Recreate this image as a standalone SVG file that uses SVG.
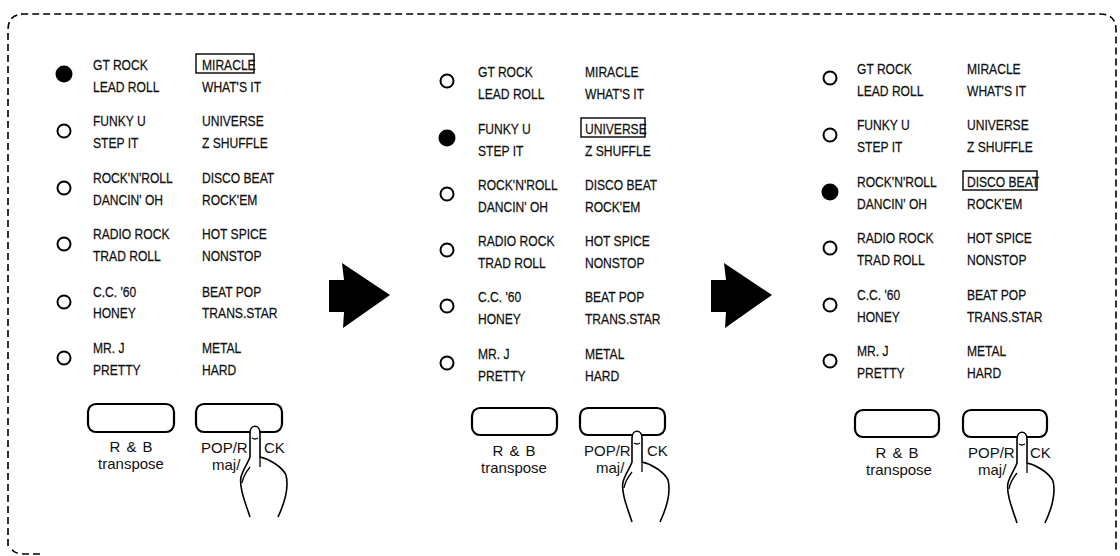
<svg xmlns="http://www.w3.org/2000/svg" width="1120" height="556" viewBox="0 0 1120 556">
<style>
.t{font-family:"Liberation Sans",Arial,sans-serif;font-size:15.5px;fill:#111;stroke:#111;stroke-width:0.25;transform-box:fill-box;transform-origin:0 0;transform:scaleX(0.78)}
.b{font-family:"Liberation Sans",Arial,sans-serif;font-size:15px;fill:#111}
.led{fill:#fff;stroke:#000;stroke-width:2}
.on{fill:#000}
.sel{fill:none;stroke:#000;stroke-width:1.4}
.btn{fill:#fff;stroke:#000;stroke-width:2.2}
.hand{fill:#fff;stroke:#000;stroke-width:1.6;stroke-linejoin:round}
.hl{fill:none;stroke:#000;stroke-width:1.3}
.border{fill:none;stroke:#000;stroke-width:1.6;stroke-dasharray:7 4}
</style>
<rect width="1120" height="556" fill="#fff"/>
<path class="border" d="M40,554 L22,554 Q13,553 11,548 M8,546 L8,30 Q8,14 24,14 L1100,14 Q1116,14 1116,30 L1116,552"/>

<g id="panel1">
<circle class="on" cx="64" cy="74" r="8.5"/>
<circle class="led" cx="64" cy="131" r="6.5"/>
<circle class="led" cx="64" cy="188" r="6.5"/>
<circle class="led" cx="64" cy="244" r="6.5"/>
<circle class="led" cx="64" cy="302" r="6.5"/>
<circle class="led" cx="64" cy="358" r="6.5"/>
<text class="t" x="93" y="70">GT ROCK</text><text class="t" x="93" y="92">LEAD ROLL</text>
<text class="t" x="93" y="126">FUNKY U</text><text class="t" x="93" y="148">STEP IT</text>
<text class="t" x="93" y="183">ROCK'N'ROLL</text><text class="t" x="93" y="205">DANCIN' OH</text>
<text class="t" x="93" y="239">RADIO ROCK</text><text class="t" x="93" y="261">TRAD ROLL</text>
<text class="t" x="93" y="297">C.C. '60</text><text class="t" x="93" y="318">HONEY</text>
<text class="t" x="93" y="353">MR. J</text><text class="t" x="93" y="375">PRETTY</text>
<text class="t" x="202" y="70">MIRACLE</text><text class="t" x="202" y="92">WHAT'S IT</text>
<text class="t" x="202" y="126">UNIVERSE</text><text class="t" x="202" y="148">Z SHUFFLE</text>
<text class="t" x="202" y="183">DISCO BEAT</text><text class="t" x="202" y="205">ROCK'EM</text>
<text class="t" x="202" y="239">HOT SPICE</text><text class="t" x="202" y="261">NONSTOP</text>
<text class="t" x="202" y="297">BEAT  POP</text><text class="t" x="202" y="318">TRANS.STAR</text>
<text class="t" x="202" y="353">METAL</text><text class="t" x="202" y="375">HARD</text>
<rect class="sel" x="196" y="54" width="58" height="19"/>
<rect class="btn" x="88" y="404" width="86" height="28" rx="8"/>
<rect class="btn" x="196" y="404" width="86" height="28" rx="8"/>
<text class="b" x="131" y="452" text-anchor="middle" word-spacing="2">R &amp; B</text>
<text class="b" x="131" y="469" text-anchor="middle">transpose</text>
<text class="b" x="201" y="453">POP/R</text><text class="b" x="264" y="453">CK</text>
<text class="b" x="212" y="470">maj/</text>
<g transform="translate(255,427)">
<path class="hand" d="M-5,90 C-10,75 -16,60 -14,50 C-12,42 -7,36 -5,30 L-5,6 C-5,-3 5,-3 5,6 L5,30 C15,32 27,40 31,48 C34,60 30,75 23,90"/>
<path class="hl" d="M-5,40 C-9,45 -12,50 -13,56 M-3,11 Q0,13 3,11 M5,30 L5,40"/>
</g>
</g>

<g id="panel2">
<circle class="led" cx="447" cy="81" r="6.5"/>
<circle class="on" cx="447" cy="138" r="8.5"/>
<circle class="led" cx="447" cy="194" r="6.5"/>
<circle class="led" cx="447" cy="250" r="6.5"/>
<circle class="led" cx="447" cy="306" r="6.5"/>
<circle class="led" cx="447" cy="363" r="6.5"/>
<text class="t" x="478" y="77">GT ROCK</text><text class="t" x="478" y="99">LEAD ROLL</text>
<text class="t" x="478" y="134">FUNKY U</text><text class="t" x="478" y="156">STEP IT</text>
<text class="t" x="478" y="190">ROCK'N'ROLL</text><text class="t" x="478" y="212">DANCIN' OH</text>
<text class="t" x="478" y="246">RADIO ROCK</text><text class="t" x="478" y="268">TRAD ROLL</text>
<text class="t" x="478" y="302">C.C. '60</text><text class="t" x="478" y="324">HONEY</text>
<text class="t" x="478" y="359">MR. J</text><text class="t" x="478" y="381">PRETTY</text>
<text class="t" x="585" y="77">MIRACLE</text><text class="t" x="585" y="99">WHAT'S IT</text>
<text class="t" x="585" y="134">UNIVERSE</text><text class="t" x="585" y="156">Z SHUFFLE</text>
<text class="t" x="585" y="190">DISCO BEAT</text><text class="t" x="585" y="212">ROCK'EM</text>
<text class="t" x="585" y="246">HOT SPICE</text><text class="t" x="585" y="268">NONSTOP</text>
<text class="t" x="585" y="302">BEAT  POP</text><text class="t" x="585" y="324">TRANS.STAR</text>
<text class="t" x="585" y="359">METAL</text><text class="t" x="585" y="381">HARD</text>
<rect class="sel" x="581" y="118" width="64" height="19"/>
<rect class="btn" x="472" y="408" width="85" height="27" rx="8"/>
<rect class="btn" x="580" y="408" width="85" height="27" rx="8"/>
<text class="b" x="514" y="456" text-anchor="middle" word-spacing="2">R &amp; B</text>
<text class="b" x="514" y="473" text-anchor="middle">transpose</text>
<text class="b" x="584" y="456">POP/R</text><text class="b" x="647" y="456">CK</text>
<text class="b" x="596" y="473">maj/</text>
<g transform="translate(637,432)">
<path class="hand" d="M-5,90 C-10,75 -16,60 -14,50 C-12,42 -7,36 -5,30 L-5,6 C-5,-3 5,-3 5,6 L5,30 C15,32 27,40 31,48 C34,60 30,75 23,90"/>
<path class="hl" d="M-5,40 C-9,45 -12,50 -13,56 M-3,11 Q0,13 3,11 M5,30 L5,40"/>
</g>
</g>

<g id="panel3">
<circle class="led" cx="830" cy="78" r="6.5"/>
<circle class="led" cx="830" cy="135" r="6.5"/>
<circle class="on" cx="830" cy="192" r="8.5"/>
<circle class="led" cx="830" cy="248" r="6.5"/>
<circle class="led" cx="830" cy="305" r="6.5"/>
<circle class="led" cx="830" cy="361" r="6.5"/>
<text class="t" x="857" y="74">GT ROCK</text><text class="t" x="857" y="96">LEAD ROLL</text>
<text class="t" x="857" y="130">FUNKY U</text><text class="t" x="857" y="152">STEP IT</text>
<text class="t" x="857" y="187">ROCK'N'ROLL</text><text class="t" x="857" y="209">DANCIN' OH</text>
<text class="t" x="857" y="243">RADIO ROCK</text><text class="t" x="857" y="265">TRAD ROLL</text>
<text class="t" x="857" y="300">C.C. '60</text><text class="t" x="857" y="322">HONEY</text>
<text class="t" x="857" y="356">MR. J</text><text class="t" x="857" y="378">PRETTY</text>
<text class="t" x="967" y="74">MIRACLE</text><text class="t" x="967" y="96">WHAT'S IT</text>
<text class="t" x="967" y="130">UNIVERSE</text><text class="t" x="967" y="152">Z SHUFFLE</text>
<text class="t" x="967" y="187">DISCO BEAT</text><text class="t" x="967" y="209">ROCK'EM</text>
<text class="t" x="967" y="243">HOT SPICE</text><text class="t" x="967" y="265">NONSTOP</text>
<text class="t" x="967" y="300">BEAT  POP</text><text class="t" x="967" y="322">TRANS.STAR</text>
<text class="t" x="967" y="356">METAL</text><text class="t" x="967" y="378">HARD</text>
<rect class="sel" x="963" y="171" width="74" height="19"/>
<rect class="btn" x="855" y="410" width="84" height="27" rx="8"/>
<rect class="btn" x="963" y="410" width="84" height="27" rx="8"/>
<text class="b" x="897" y="458" text-anchor="middle" word-spacing="2">R &amp; B</text>
<text class="b" x="899" y="475" text-anchor="middle">transpose</text>
<text class="b" x="968" y="458">POP/R</text><text class="b" x="1030" y="458">CK</text>
<text class="b" x="978" y="475">maj/</text>
<g transform="translate(1022,433)">
<path class="hand" d="M-5,90 C-10,75 -16,60 -14,50 C-12,42 -7,36 -5,30 L-5,6 C-5,-3 5,-3 5,6 L5,30 C15,32 27,40 31,48 C34,60 30,75 23,90"/>
<path class="hl" d="M-5,40 C-9,45 -12,50 -13,56 M-3,11 Q0,13 3,11 M5,30 L5,40"/>
</g>
</g>

<g id="connectors">
<polygon points="329,280 344,280 342,263 390,295 343,328 344,312 329,312" fill="#000"/>
<polygon points="711,280 726,280 724,263 772,295 725,328 726,312 711,312" fill="#000"/>
</g>
</svg>
